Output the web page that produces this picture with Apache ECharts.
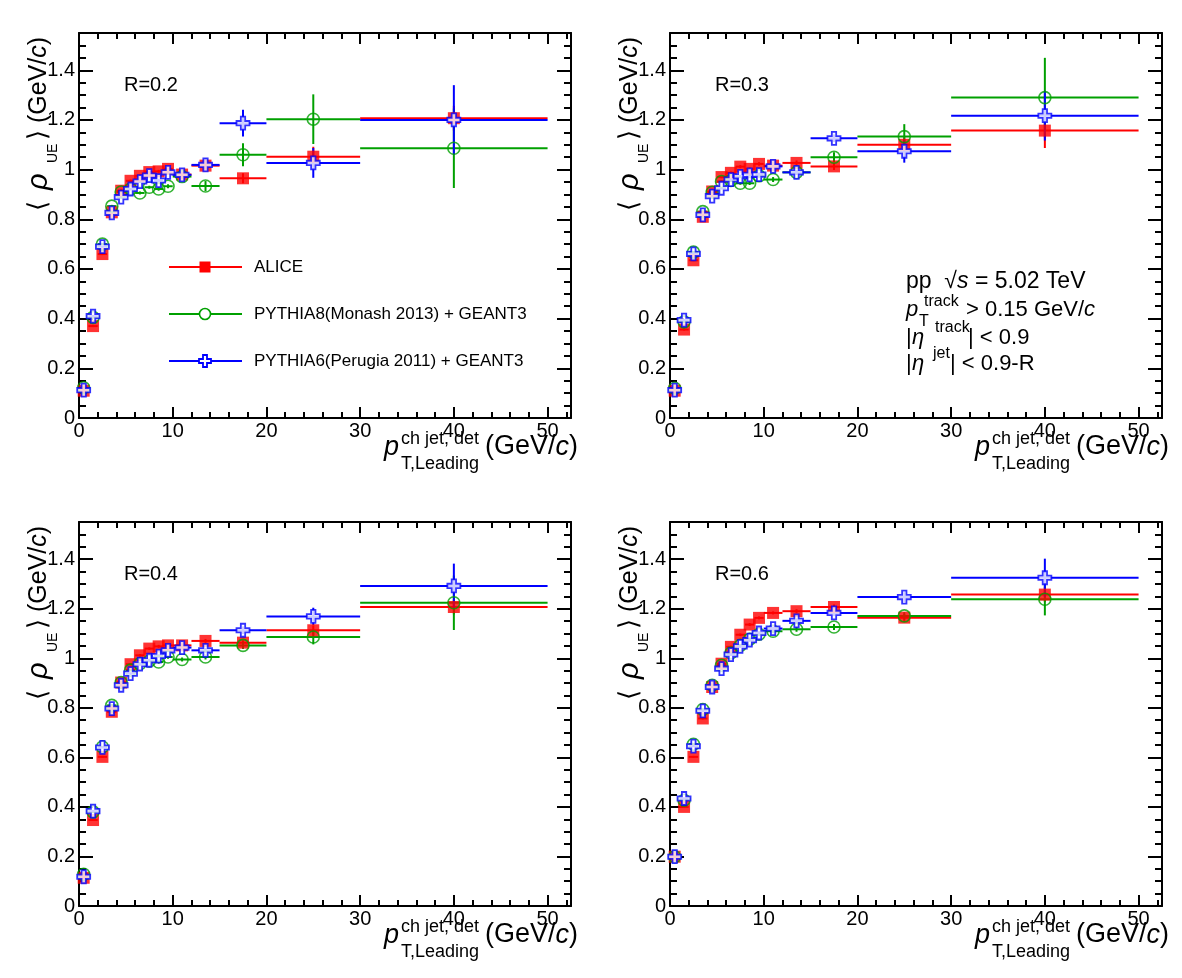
<!DOCTYPE html>
<html>
<head>
<meta charset="utf-8">
<script src="https://cdn.jsdelivr.net/npm/echarts@6/dist/echarts.min.js"></script>
<style>
  html, body { margin: 0; background: #fff; }
  #chart { width: 1182px; height: 978px; }
</style>
</head>
<body>
<div id="chart"></div>
<script>
// bin edges in pT (GeV/c)
const binEdges = [0, 1, 2, 3, 4, 5, 6, 7, 8, 9, 10, 12, 15, 20, 30, 50];

// R = 0.2
const alice02 = [0.11, 0.37, 0.66, 0.828, 0.915, 0.955, 0.975, 0.99, 0.993, 1.003, 0.98, 1.016, 0.965, 1.052, 1.207];
const py8_02 = [0.122, 0.405, 0.70, 0.853, 0.91, 0.922, 0.906, 0.929, 0.922, 0.933, 0.972, 0.934, 1.06, 1.203, 1.086];
const py6_02 = [0.112, 0.41, 0.69, 0.826, 0.889, 0.922, 0.952, 0.976, 0.956, 0.989, 0.979, 1.019, 1.187, 1.027, 1.20];
const alice02Err = [0.004, 0.004, 0.004, 0.004, 0.005, 0.005, 0.005, 0.006, 0.006, 0.007, 0.007, 0.012, 0.02, 0.04, 0.05];
const py8_02Err = [0.004, 0.004, 0.004, 0.005, 0.005, 0.005, 0.006, 0.006, 0.007, 0.008, 0.01, 0.02, 0.046, 0.1, 0.16];
const py6_02Err = [0.004, 0.004, 0.004, 0.005, 0.005, 0.005, 0.006, 0.006, 0.007, 0.008, 0.01, 0.025, 0.054, 0.06, 0.14];

// R = 0.3
const alice03 = [0.11, 0.356, 0.635, 0.81, 0.912, 0.97, 0.987, 1.012, 1.003, 1.023, 1.016, 1.027, 1.013, 1.10, 1.157];
const py8_03 = [0.12, 0.387, 0.668, 0.831, 0.909, 0.952, 0.956, 0.945, 0.945, 0.975, 0.96, 0.989, 1.05, 1.133, 1.29];
const py6_03 = [0.112, 0.394, 0.661, 0.818, 0.893, 0.925, 0.96, 0.973, 0.979, 0.98, 1.013, 0.989, 1.126, 1.074, 1.217];
const alice03Err = [0.004, 0.004, 0.004, 0.004, 0.005, 0.005, 0.005, 0.006, 0.006, 0.007, 0.008, 0.01, 0.015, 0.03, 0.07];
const py8_03Err = [0.004, 0.004, 0.004, 0.005, 0.005, 0.005, 0.006, 0.006, 0.007, 0.008, 0.01, 0.01, 0.02, 0.05, 0.16];
const py6_03Err = [0.004, 0.004, 0.004, 0.005, 0.005, 0.005, 0.006, 0.006, 0.007, 0.008, 0.008, 0.01, 0.015, 0.046, 0.1];

// R = 0.4
const alice04 = [0.114, 0.347, 0.602, 0.784, 0.902, 0.976, 1.012, 1.039, 1.048, 1.052, 1.052, 1.07, 1.063, 1.113, 1.207];
const py8_04 = [0.128, 0.38, 0.642, 0.81, 0.902, 0.952, 0.978, 0.989, 0.985, 1.005, 0.995, 1.005, 1.052, 1.086, 1.224];
const py6_04 = [0.118, 0.383, 0.64, 0.797, 0.891, 0.938, 0.976, 0.992, 1.009, 1.032, 1.043, 1.032, 1.113, 1.169, 1.292];
const alice04Err = [0.004, 0.004, 0.004, 0.004, 0.005, 0.005, 0.005, 0.005, 0.006, 0.006, 0.006, 0.008, 0.01, 0.02, 0.03];
const py8_04Err = [0.004, 0.004, 0.004, 0.005, 0.005, 0.005, 0.006, 0.006, 0.007, 0.007, 0.008, 0.01, 0.015, 0.03, 0.11];
const py6_04Err = [0.004, 0.004, 0.004, 0.005, 0.005, 0.005, 0.006, 0.006, 0.007, 0.007, 0.008, 0.01, 0.015, 0.035, 0.09];

// R = 0.6
const alice06 = [0.199, 0.40, 0.602, 0.757, 0.884, 0.978, 1.046, 1.095, 1.136, 1.163, 1.183, 1.19, 1.207, 1.164, 1.257];
const py8_06 = [0.199, 0.427, 0.653, 0.793, 0.891, 0.972, 1.021, 1.052, 1.077, 1.097, 1.109, 1.117, 1.126, 1.171, 1.238];
const py6_06 = [0.199, 0.434, 0.645, 0.788, 0.884, 0.958, 1.015, 1.048, 1.073, 1.102, 1.12, 1.151, 1.183, 1.247, 1.325];
const alice06Err = [0.004, 0.004, 0.004, 0.004, 0.005, 0.005, 0.005, 0.005, 0.006, 0.006, 0.006, 0.008, 0.01, 0.015, 0.03];
const py8_06Err = [0.004, 0.004, 0.004, 0.005, 0.005, 0.005, 0.006, 0.006, 0.007, 0.007, 0.008, 0.01, 0.012, 0.015, 0.065];
const py6_06Err = [0.004, 0.004, 0.004, 0.005, 0.005, 0.005, 0.006, 0.006, 0.007, 0.007, 0.008, 0.01, 0.012, 0.02, 0.077];

const radiusLabels = ['R=0.2', 'R=0.3', 'R=0.4', 'R=0.6'];
const seriesNames = ['ALICE', 'PYTHIA8(Monash 2013) + GEANT3', 'PYTHIA6(Perugia 2011) + GEANT3'];
const xTicks = [0, 10, 20, 30, 40, 50];
const yTicks = [0, 0.2, 0.4, 0.6, 0.8, 1, 1.2, 1.4];

const panelData = [
  [[alice02, alice02Err], [py8_02, py8_02Err], [py6_02, py6_02Err]],
  [[alice03, alice03Err], [py8_03, py8_03Err], [py6_03, py6_03Err]],
  [[alice04, alice04Err], [py8_04, py8_04Err], [py6_04, py6_04Err]],
  [[alice06, alice06Err], [py8_06, py8_06Err], [py6_06, py6_06Err]]
];

const FONT = '"Liberation Sans", Arial, Helvetica, sans-serif';
const RED = '#ff0000';
const GREEN = '#00a000';
const BLUE = '#0000ff';
const colors = [RED, GREEN, BLUE];
const CROSS = 'path://M4,0L8,0L8,4L12,4L12,8L8,8L8,12L4,12L4,8L0,8L0,4L4,4Z';

// panel boxes
const boxes = [
  { left: 79, top: 33, width: 492, height: 385 },
  { left: 670, top: 33, width: 492, height: 385 },
  { left: 79, top: 522, width: 492, height: 384 },
  { left: 670, top: 522, width: 492, height: 384 }
];

const chart = echarts.init(document.getElementById('chart'));

function xAxes(g) {
  const base = {
    gridIndex: g, type: 'value', min: 0, max: 52.5,
    splitLine: { show: false }, minorTick: { show: false }
  };
  const line = { show: true, onZero: false, lineStyle: { color: '#000', width: 2 } };
  const major = { show: true, inside: true, length: 11, lineStyle: { color: '#000', width: 2 } };
  const minor = { show: true, inside: true, length: 6, lineStyle: { color: '#000', width: 2 } };
  return [
    Object.assign({}, base, {
      position: 'bottom', interval: 10, axisLine: line, axisTick: major,
      axisLabel: {
        show: true, margin: 3, fontSize: 20, color: '#000', fontFamily: FONT,
        showMaxLabel: false,
        formatter: v => (xTicks.indexOf(v) >= 0 ? String(v) : '')
      }
    }),
    Object.assign({}, base, {
      position: 'bottom', interval: 2, axisLine: { show: false, onZero: false },
      axisTick: minor, axisLabel: { show: false }
    }),
    Object.assign({}, base, {
      position: 'top', interval: 10, axisLine: line, axisTick: major, axisLabel: { show: false }
    }),
    Object.assign({}, base, {
      position: 'top', interval: 2, axisLine: { show: false, onZero: false },
      axisTick: minor, axisLabel: { show: false }
    })
  ];
}

function yAxes(g) {
  const base = {
    gridIndex: g, type: 'value', min: 0, max: 1.55,
    splitLine: { show: false }, minorTick: { show: false }
  };
  const line = { show: true, onZero: false, lineStyle: { color: '#000', width: 2 } };
  const major = { show: true, inside: true, length: 14, lineStyle: { color: '#000', width: 2 } };
  const minor = { show: true, inside: true, length: 7, lineStyle: { color: '#000', width: 2 } };
  return [
    Object.assign({}, base, {
      position: 'left', interval: 0.2, axisLine: line, axisTick: major,
      axisLabel: {
        show: true, margin: 4, fontSize: 20, color: '#000', fontFamily: FONT,
        showMaxLabel: false,
        formatter: v => {
          const r = Math.round(v * 10) / 10;
          return yTicks.indexOf(r) >= 0 ? String(r) : '';
        }
      }
    }),
    Object.assign({}, base, {
      position: 'left', interval: 0.05, axisLine: { show: false, onZero: false },
      axisTick: minor, axisLabel: { show: false }
    }),
    Object.assign({}, base, {
      position: 'right', interval: 0.2, axisLine: line, axisTick: major, axisLabel: { show: false }
    }),
    Object.assign({}, base, {
      position: 'right', interval: 0.05, axisLine: { show: false, onZero: false },
      axisTick: minor, axisLabel: { show: false }
    })
  ];
}

function errRenderer(color) {
  return function (params, api) {
    const x = api.value(0), y = api.value(1), lo = api.value(2), hi = api.value(3), e = api.value(4);
    const a = api.coord([lo, y]), b = api.coord([hi, y]);
    const c = api.coord([x, y - e]), d = api.coord([x, y + e]);
    const st = { stroke: color, lineWidth: 2 };
    return {
      type: 'group',
      children: [
        { type: 'line', shape: { x1: a[0], y1: a[1], x2: b[0], y2: b[1] }, style: st },
        { type: 'line', shape: { x1: c[0], y1: c[1], x2: d[0], y2: d[1] }, style: st }
      ]
    };
  };
}

const markerStyles = [
  { symbol: 'rect', symbolSize: 12, itemStyle: { color: RED } },
  { symbol: 'circle', symbolSize: 12, itemStyle: { color: 'rgba(0,0,0,0)', borderColor: GREEN, borderWidth: 1.6 } },
  { symbol: CROSS, symbolSize: 13, itemStyle: { color: '#fff', borderColor: BLUE, borderWidth: 1.8 } }
];

const grid = [], xAxis = [], yAxis = [], series = [];
boxes.forEach((b, g) => {
  grid.push({ left: b.left, top: b.top, width: b.width, height: b.height, containLabel: false });
  xAxis.push(...xAxes(g));
  yAxis.push(...yAxes(g));
  panelData[g].forEach((pair, s) => {
    const vals = pair[0], errs = pair[1];
    const rows = vals.map((v, i) => {
      const lo = binEdges[i], hi = binEdges[i + 1];
      return [(lo + hi) / 2, v, lo, hi, errs[i]];
    });
    series.push({
      type: 'custom', name: seriesNames[s], xAxisIndex: g * 4, yAxisIndex: g * 4,
      renderItem: errRenderer(colors[s]), data: rows, silent: true, clip: false,
      encode: { x: 0, y: 1 }
    });
    series.push(Object.assign({
      type: 'scatter', name: seriesNames[s], xAxisIndex: g * 4, yAxisIndex: g * 4,
      data: rows.map(r => [r[0], r[1]]), silent: true
    }, markerStyles[s]));
  });
});

// text helpers
function txt(x, y, text, size, opt) {
  opt = opt || {};
  return {
    type: 'text', x: x, y: y, silent: true,
    style: {
      text: text, fill: '#000', fontSize: size, fontFamily: FONT,
      fontStyle: opt.italic ? 'italic' : 'normal',
      align: opt.align || 'left', verticalAlign: 'middle',
      textAlign: opt.align || 'left', textVerticalAlign: 'middle',
      rich: opt.rich
    }
  };
}
function richGeV(size) {
  return {
    n: { fontSize: size, fontFamily: FONT, fill: '#000' },
    i: { fontSize: size, fontFamily: FONT, fontStyle: 'italic', fill: '#000' }
  };
}

const graphic = [];
boxes.forEach((b, g) => {
  const R = b.left + b.width, B = b.top + b.height;
  // panel label
  graphic.push(txt(b.left + 45, b.top + 52, radiusLabels[g], 20));
  // x-axis title
  graphic.push(txt(R - 187, B + 29, 'p', 27, { italic: true }));
  graphic.push(txt(R - 170, B + 21, 'ch jet, det', 18));
  graphic.push(txt(R - 170, B + 46, 'T,Leading', 18));
  graphic.push(txt(R - 86, B + 29, '{n|(GeV/}{i|c}{n|)}', 27, { rich: richGeV(27) }));
  // y-axis title (rotated)
  graphic.push({
    type: 'group', x: b.left - 40, y: b.top + 178, rotation: Math.PI / 2, silent: true,
    children: [
      txt(0, 0, '\u27e8', 26),
      txt(21, 0, '\u03c1', 29, { italic: true }),
      txt(48, 14, 'UE', 14),
      txt(71, 0, '\u27e9', 26),
      txt(88, 0, '{n|(GeV/}{i|c}{n|)}', 25, { rich: richGeV(25) })
    ]
  });
});

// legend (top-left panel)
const lg = boxes[0];
const legendRows = [lg.top + 234, lg.top + 281, lg.top + 328];
const lx0 = lg.left + 90, lx1 = lg.left + 163, mx = lg.left + 126;
legendRows.forEach((y, s) => {
  graphic.push({ type: 'line', silent: true, shape: { x1: lx0, y1: y, x2: lx1, y2: y }, style: { stroke: colors[s], lineWidth: 2 } });
  graphic.push(txt(lg.left + 175, y, seriesNames[s], 17));
});
graphic.push({ type: 'rect', silent: true, shape: { x: mx - 5.5, y: legendRows[0] - 5.5, width: 11, height: 11 }, style: { fill: RED } });
graphic.push({ type: 'circle', silent: true, shape: { cx: mx, cy: legendRows[1], r: 5.5 }, style: { fill: '#fff', stroke: GREEN, lineWidth: 1.6 } });
(function () {
  const cy = legendRows[2], h = 6, w = 2;
  const pts = [[-w, -h], [w, -h], [w, -w], [h, -w], [h, w], [w, w], [w, h], [-w, h], [-w, w], [-h, w], [-h, -w], [-w, -w]]
    .map(p => [mx + p[0], cy + p[1]]);
  graphic.push({ type: 'polygon', silent: true, shape: { points: pts }, style: { fill: '#fff', stroke: BLUE, lineWidth: 1.8 } });
})();

// info block (top-right panel)
const ib = boxes[1];
const ix = ib.left + 236;
const l1 = ib.top + 249, l2 = ib.top + 277, l3 = ib.top + 305, l4 = ib.top + 331;
graphic.push(txt(ix, l1, '{n|pp  \u221a}{i|s}{n| = 5.02 TeV}', 23, { rich: richGeV(23) }));
graphic.push(txt(ix, l2, 'p', 22, { italic: true }));
graphic.push(txt(ix + 18, l2 - 8, 'track', 16));
graphic.push(txt(ix + 13, l2 + 12, 'T', 16));
graphic.push(txt(ix + 60, l2, '{n|> 0.15 GeV/}{i|c}', 22, { rich: richGeV(22) }));
graphic.push(txt(ix, l3, '|', 22));
graphic.push(txt(ix + 6, l3, '\u03b7', 22, { italic: true }));
graphic.push(txt(ix + 29, l3 - 10, 'track', 16));
graphic.push(txt(ix + 62, l3, '| < 0.9', 22));
graphic.push(txt(ix, l4, '|', 22));
graphic.push(txt(ix + 6, l4, '\u03b7', 22, { italic: true }));
graphic.push(txt(ix + 27, l4 - 10, 'jet', 16));
graphic.push(txt(ix + 44, l4, '| < 0.9-R', 22));

chart.setOption({
  backgroundColor: '#fff',
  animation: false,
  grid: grid,
  xAxis: xAxis,
  yAxis: yAxis,
  series: series,
  graphic: graphic
});
</script>
</body>
</html>
